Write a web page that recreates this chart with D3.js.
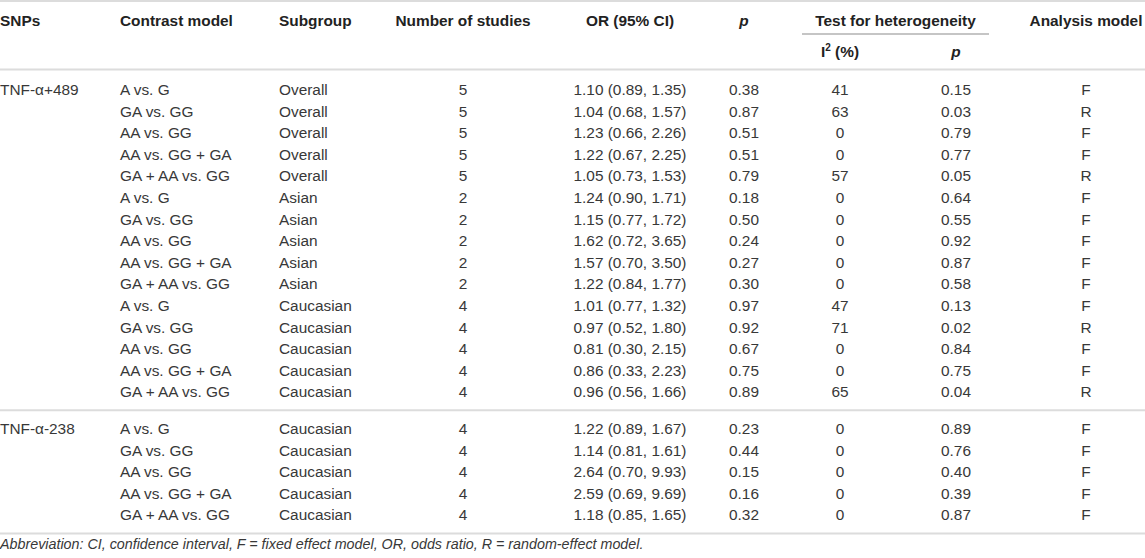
<!DOCTYPE html>
<html>
<head>
<meta charset="utf-8">
<script src="https://cdn.jsdelivr.net/npm/d3@7"></script>
<style>
  body { margin: 0; background: #fff; }
  svg text { font-family: "Liberation Sans", Arial, Helvetica, sans-serif; }
</style>
</head>
<body>
<svg id="tbl" width="1145" height="558"></svg>
<script>
// table data
var snps = ["TNF-α+489", "TNF-α-238"];
var snpRows = [15, 5];
var contrasts = ["A vs. G", "GA vs. GG", "AA vs. GG", "AA vs. GG + GA", "GA + AA vs. GG",
                 "A vs. G", "GA vs. GG", "AA vs. GG", "AA vs. GG + GA", "GA + AA vs. GG",
                 "A vs. G", "GA vs. GG", "AA vs. GG", "AA vs. GG + GA", "GA + AA vs. GG",
                 "A vs. G", "GA vs. GG", "AA vs. GG", "AA vs. GG + GA", "GA + AA vs. GG"];
var subgroups = ["Overall", "Overall", "Overall", "Overall", "Overall",
                 "Asian", "Asian", "Asian", "Asian", "Asian",
                 "Caucasian", "Caucasian", "Caucasian", "Caucasian", "Caucasian",
                 "Caucasian", "Caucasian", "Caucasian", "Caucasian", "Caucasian"];
var nStudies = [5, 5, 5, 5, 5, 2, 2, 2, 2, 2, 4, 4, 4, 4, 4, 4, 4, 4, 4, 4];
var orVal  = [1.10, 1.04, 1.23, 1.22, 1.05, 1.24, 1.15, 1.62, 1.57, 1.22, 1.01, 0.97, 0.81, 0.86, 0.96, 1.22, 1.14, 2.64, 2.59, 1.18];
var ciLow  = [0.89, 0.68, 0.66, 0.67, 0.73, 0.90, 0.77, 0.72, 0.70, 0.84, 0.77, 0.52, 0.30, 0.33, 0.56, 0.89, 0.81, 0.70, 0.69, 0.85];
var ciHigh = [1.35, 1.57, 2.26, 2.25, 1.53, 1.71, 1.72, 3.65, 3.50, 1.77, 1.32, 1.80, 2.15, 2.23, 1.66, 1.67, 1.61, 9.93, 9.69, 1.65];
var pVal   = [0.38, 0.87, 0.51, 0.51, 0.79, 0.18, 0.50, 0.24, 0.27, 0.30, 0.97, 0.92, 0.67, 0.75, 0.89, 0.23, 0.44, 0.15, 0.16, 0.32];
var i2     = [41, 63, 0, 0, 57, 0, 0, 0, 0, 0, 47, 71, 0, 0, 65, 0, 0, 0, 0, 0];
var pHet   = [0.15, 0.03, 0.79, 0.77, 0.05, 0.64, 0.55, 0.92, 0.87, 0.58, 0.13, 0.02, 0.84, 0.75, 0.04, 0.89, 0.76, 0.40, 0.39, 0.87];
var model  = ["F", "R", "F", "F", "R", "F", "F", "F", "F", "F", "F", "R", "F", "F", "R", "F", "F", "F", "F", "F"];
var footnote = "Abbreviation: CI, confidence interval, F = fixed effect model, OR, odds ratio, R = random-effect model.";

var width = 1145, height = 558;
var svg = d3.select("#tbl");
var fs = 15.4, fsNote = 14.3;
var txtColor = "#383838", headColor = "#222", ruleColor = "#dcdcdc";
var f2 = d3.format(".2f");

// columns: x and anchor
var cols = {
    snp:      {x: 0,    anchor: "start"},
    contrast: {x: 120,  anchor: "start"},
    subgroup: {x: 279,  anchor: "start"},
    n:        {x: 463,  anchor: "middle"},
    or:       {x: 630,  anchor: "middle"},
    p:        {x: 744,  anchor: "middle"},
    i2:       {x: 840,  anchor: "middle"},
    pHet:     {x: 956,  anchor: "middle"},
    model:    {x: 1086, anchor: "middle"}
};

// rows
var rows = contrasts.map(function(c, i) {
    return {i: i, group: i < snpRows[0] ? 0 : 1, contrast: c, subgroup: subgroups[i], n: nStudies[i],
        or: f2(orVal[i]) + " (" + f2(ciLow[i]) + ", " + f2(ciHigh[i]) + ")",
        p: f2(pVal[i]), i2: i2[i], pHet: f2(pHet[i]), model: model[i]};
});

// baseline of each row
var rowStep = 21.6, groupGap = 15;
var yRow = d3.scaleLinear().domain([0, 1]).range([95, 95 + rowStep]);
function rowY(d) { return yRow(d.i) + d.group * groupGap; }

// rules
function hrule(y, x0, x1, w, col) {
    svg.append("line").attr("x1", x0).attr("x2", x1).attr("y1", y).attr("y2", y)
        .attr("stroke", col || ruleColor).attr("stroke-width", w || 2);
}
var lastA = rows[snpRows[0] - 1], firstB = rows[snpRows[0]], lastB = rows[rows.length - 1];
hrule(1, 0, width);
hrule(69.5, 0, width);
hrule((rowY(lastA) + rowY(firstB)) / 2 - 5.5, 0, width);
hrule(rowY(lastB) + 13, 0, width);
hrule(34, 802, 989, 1.2, "#8c8c8c");

// headers
var head1 = [
    {t: "SNPs", x: cols.snp.x, a: "start"},
    {t: "Contrast model", x: cols.contrast.x, a: "start"},
    {t: "Subgroup", x: cols.subgroup.x, a: "start"},
    {t: "Number of studies", x: cols.n.x, a: "middle"},
    {t: "OR (95% CI)", x: cols.or.x, a: "middle"},
    {t: "p", x: cols.p.x, a: "middle", it: true},
    {t: "Test for heterogeneity", x: 895.5, a: "middle"},
    {t: "Analysis model", x: cols.model.x, a: "middle"}
];
svg.selectAll("text.h1").data(head1).enter().append("text")
    .attr("class", "h1")
    .attr("x", d => d.x).attr("y", 26)
    .attr("text-anchor", d => d.a)
    .attr("font-size", fs).attr("font-weight", "bold")
    .attr("font-style", d => d.it ? "italic" : "normal")
    .attr("fill", headColor)
    .text(d => d.t);

var h2 = svg.append("g").attr("font-size", fs).attr("font-weight", "bold").attr("fill", headColor);
var i2h = h2.append("text").attr("x", cols.i2.x).attr("y", 57).attr("text-anchor", "middle");
i2h.append("tspan").text("I");
i2h.append("tspan").attr("font-size", fs * 0.65).attr("dy", -6).text("2");
i2h.append("tspan").attr("dy", 6).text(" (%)");
h2.append("text").attr("x", cols.pHet.x).attr("y", 57).attr("text-anchor", "middle")
    .attr("font-style", "italic").text("p");

// SNP labels
svg.selectAll("text.snp").data(snps).enter().append("text")
    .attr("class", "snp")
    .attr("x", cols.snp.x)
    .attr("y", (d, g) => rowY(rows[g === 0 ? 0 : snpRows[0]]))
    .attr("font-size", fs).attr("fill", txtColor)
    .text(d => d);

// body cells
var keys = ["contrast", "subgroup", "n", "or", "p", "i2", "pHet", "model"];
var rowG = svg.selectAll("g.row").data(rows).enter().append("g")
    .attr("class", "row")
    .attr("transform", d => "translate(0," + rowY(d) + ")");
keys.forEach(function(k) {
    rowG.append("text")
        .attr("x", cols[k].x)
        .attr("text-anchor", cols[k].anchor)
        .attr("font-size", fs).attr("fill", txtColor)
        .text(d => d[k]);
});

// footnote
svg.append("text").attr("x", 0).attr("y", rowY(lastB) + 29)
    .attr("font-size", fsNote).attr("font-style", "italic").attr("fill", txtColor)
    .text(footnote);
</script>
</body>
</html>
